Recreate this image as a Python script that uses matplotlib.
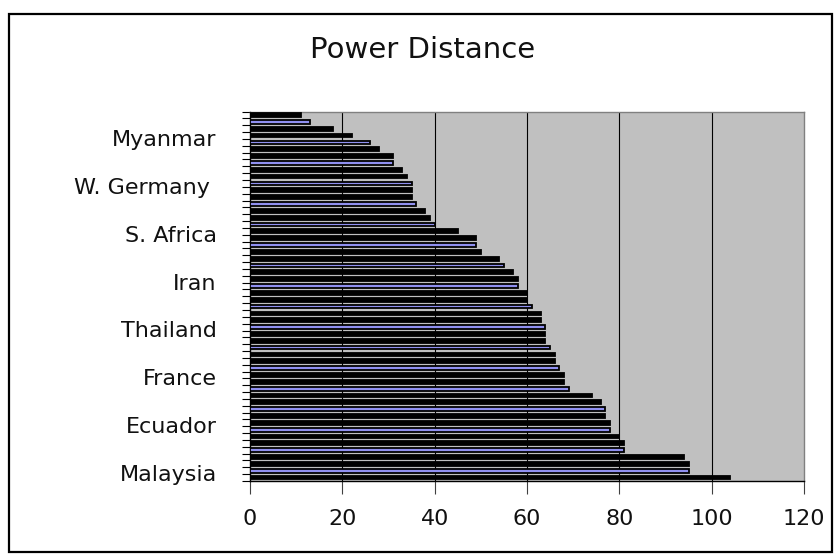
import numpy as np
import matplotlib
matplotlib.use("Agg")
import matplotlib.pyplot as plt
import matplotlib.transforms as mtransforms
from matplotlib.patches import Rectangle

# Power Distance index values, listed from the top bar to the bottom bar
values = [11, 13, 18, 22, 26, 28, 31, 31, 33, 34, 35, 35, 35, 36, 38, 39, 40,
          45, 49, 49, 50, 54, 55, 57, 58, 58, 60, 60, 61, 63, 63, 64, 64, 64,
          65, 66, 66, 67, 68, 68, 69, 74, 76, 77, 77, 78, 78, 80, 81, 81, 94,
          95, 95, 104]
# visible category labels, every 7th category counted from the bottom
label_names = ["Malaysia", "Ecuador", "France", "Thailand", "Iran",
               "S. Africa", "W. Germany ", "Myanmar"]
label_step = 7
title = "Power Distance"
x_ticks = [0, 20, 40, 60, 80, 100, 120]

plt.rcParams['font.family'] = ['DejaVu Sans']

W, H = 840, 560
fig = plt.figure(figsize=(W / 100, H / 100), dpi=100)
fig.patch.set_facecolor('white')

left, right, top, bottom = 250, 804, 111.6, 481
ax = fig.add_axes([left / W, 1 - bottom / H, (right - left) / W, (bottom - top) / H])
ax.set_facecolor('#C0C0C0')

n = len(values)
y = np.arange(n)
colors = ['#9090F0' if i % 3 == 1 else 'black' for i in range(n)]
ax.barh(y, values, height=0.55, color=colors, edgecolor='black',
        linewidth=1.3, zorder=3)

ax.set_xlim(x_ticks[0], x_ticks[-1])
ax.set_ylim(n - 0.5, -0.5)

# vertical gridlines
for xv in x_ticks[1:-1]:
    ax.axvline(xv, color='black', linewidth=0.8, zorder=1)

ax.set_xticks(x_ticks)
ax.set_xticklabels([str(v) for v in x_ticks], fontsize=16, color='#111111')
ax.tick_params(axis='x', direction='out', length=9, width=0.8, pad=11,
               color='#404040')

label_idx = [n - 1 - k * label_step for k in range(len(label_names))]
ax.set_yticks(label_idx)
ax.set_yticklabels(label_names, fontsize=16, color='#111111')
ax.set_yticks(np.arange(-0.5, n, 1.0), minor=True)
ax.tick_params(axis='y', which='major', length=0, pad=24)
ax.tick_params(axis='y', which='minor', direction='out', length=6, width=0.8,
               color='black')
offset = mtransforms.ScaledTranslation(0, 4.5 / 100, fig.dpi_scale_trans)
for lab in ax.get_yticklabels():
    lab.set_transform(lab.get_transform() + offset)

for s in ['left', 'bottom']:
    ax.spines[s].set_color('black')
    ax.spines[s].set_linewidth(1.0)
for s in ['top', 'right']:
    ax.spines[s].set_color('#808080')
    ax.spines[s].set_linewidth(1.0)

fig.text(422.5 / W, 1 - 58 / H, title, ha='center', va='baseline', fontsize=21,
         color='#111111')

# outer chart border
fig.patches.append(Rectangle((9 / W, 1 - 552 / H), (832 - 9) / W, (552 - 14) / H,
                             transform=fig.transFigure, fill=False,
                             edgecolor='black', linewidth=1.6))

fig.savefig('out.png', dpi=100)
